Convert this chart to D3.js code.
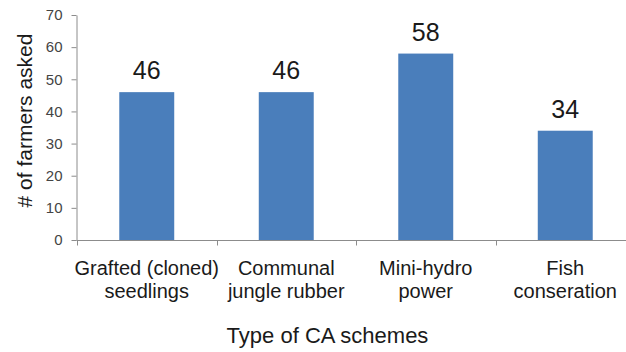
<!DOCTYPE html>
<html>
<head>
<meta charset="utf-8">
<script src="https://cdn.jsdelivr.net/npm/d3@7"></script>
<style>
  html, body { margin: 0; padding: 0; background: #fff; }
  svg { display: block; font-family: "Liberation Sans", Arial, sans-serif; }
</style>
</head>
<body>
<svg id="chart" width="626" height="352"></svg>
<script>
const categories = [["Grafted (cloned)", "seedlings"], ["Communal", "jungle rubber"], ["Mini-hydro", "power"], ["Fish", "conseration"]];
const values = [46, 46, 58, 34];
const yTicks = [0, 10, 20, 30, 40, 50, 60, 70];
const yTitle = "# of farmers asked";
const xTitle = "Type of CA schemes";

const svg = d3.select("#chart");
const keys = categories.map((c, i) => i);

const x = d3.scaleBand().domain(keys).range([77, 635]).paddingInner(0.606).paddingOuter(0.303);
const y = d3.scaleLinear().domain([0, 70]).range([240, 15]);

// bars
svg.append("g").selectAll("rect").data(values).join("rect")
  .attr("x", (d, i) => x(i))
  .attr("y", d => y(d))
  .attr("width", x.bandwidth())
  .attr("height", d => y(0) - y(d))
  .attr("fill", "#4a7ebb");

// y axis
const yAxis = svg.append("g").attr("transform", "translate(76.5,0)")
  .call(d3.axisLeft(y).tickValues(yTicks).tickSize(5).tickSizeOuter(0).tickPadding(9));
yAxis.select(".domain").attr("stroke", "#8c8c8c");
yAxis.selectAll(".tick line").attr("stroke", "#8c8c8c");
yAxis.selectAll(".tick text").attr("font-size", 15).attr("fill", "#444")
  .attr("font-family", "Liberation Sans, Arial, sans-serif");

// x axis
const xAxis = svg.append("g").attr("transform", "translate(0,240.5)")
  .call(d3.axisBottom(x).tickSize(0).tickSizeOuter(0).tickFormat(""));
xAxis.select(".domain").attr("stroke", "#8c8c8c").attr("d", `M76.5,0H${x.range()[1]}`);
const step = x.step();
const bounds = keys.map(i => x(i) - step * x.paddingInner() / 2);
xAxis.selectAll("line.bnd").data(bounds).join("line").attr("class", "bnd")
  .attr("x1", d => Math.round(d) + 0.5).attr("x2", d => Math.round(d) + 0.5)
  .attr("y1", 0).attr("y2", 5).attr("stroke", "#8c8c8c");

// category labels
const catG = svg.append("g");
categories.forEach((lines, i) => {
  const t = catG.append("text")
    .attr("x", x(i) + x.bandwidth() / 2)
    .attr("text-anchor", "middle")
    .attr("font-size", 20)
    .attr("fill", "#1a1a1a");
  lines.forEach((ln, j) => {
    t.append("tspan").attr("x", x(i) + x.bandwidth() / 2).attr("y", 275 + j * 23).text(ln);
  });
});

// value labels
svg.append("g").selectAll("text").data(values).join("text")
  .attr("x", (d, i) => x(i) + x.bandwidth() / 2)
  .attr("y", d => y(d) - 13)
  .attr("text-anchor", "middle")
  .attr("font-size", 25)
  .attr("fill", "#1a1a1a")
  .text(d => d);

// axis titles
svg.append("text")
  .attr("transform", "translate(32,120.5) rotate(-90)")
  .attr("text-anchor", "middle")
  .attr("font-size", 21)
  .attr("fill", "#1a1a1a")
  .text(yTitle);

svg.append("text")
  .attr("x", 327.5).attr("y", 343)
  .attr("text-anchor", "middle")
  .attr("font-size", 22)
  .attr("fill", "#1a1a1a")
  .text(xTitle);
</script>
</body>
</html>
